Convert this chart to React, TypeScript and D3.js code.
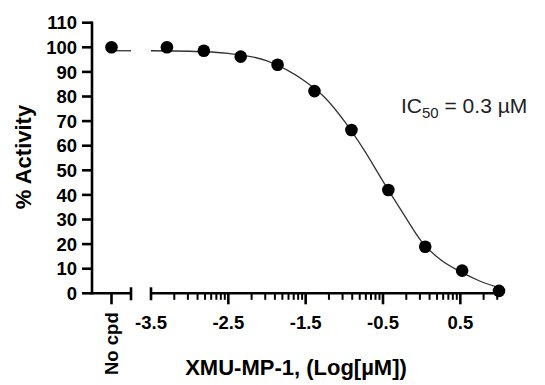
import { useEffect, useRef } from "react";
import * as d3 from "d3";

// dose (log µM) of each measured point, 3-fold dilutions
const doseLog = [-3.294, -2.817, -2.34, -1.863, -1.386, -0.908, -0.431, 0.046, 0.523, 1.0];
const activity = [100, 98.6, 96.2, 92.9, 82.2, 66.4, 42.0, 18.9, 9.2, 1.0];

// no-compound control
const controlLabel = "No cpd";
const controlValue = 100;

// fitted curve
const fitLog = [-3.5, -3.0, -2.5, -2.0, -1.5, -1.25, -1.0, -0.75, -0.5, -0.25, 0.0, 0.25, 0.5, 0.75, 1.0];
const fitValue = [98.6, 98.4, 97.5, 94.5, 86, 79.5, 70, 58.5, 45.5, 33, 21, 13.5, 8.8, 5, 2.3];
const fitTop = 98.6;

const yTicks = [0, 10, 20, 30, 40, 50, 60, 70, 80, 90, 100, 110];
const xMajor = [-3.5, -2.5, -1.5, -0.5, 0.5];
const xLabels = ["-3.5", "-2.5", "-1.5", "-0.5", "0.5"];
const minorSteps = [2, 3, 4, 5, 6, 7, 8, 9];

const W = 545;
const H = 385;
const FONT = "'Liberation Sans', Arial, sans-serif";

export default function App() {
  const svgRef = useRef<SVGSVGElement>(null);

  useEffect(() => {
    const el = svgRef.current;
    if (!el) return;
    d3.select(el).selectAll("*").remove();
    const svg = d3.select(el);

    const y = d3.scaleLinear().domain([0, 110]).range([293.3, 22.7]);
    const x = d3.scaleLinear().domain([-3.5, 1.0]).range([151, 499]);
    const xc = d3.scaleBand().domain([controlLabel]).range([92, 131]);
    const cx = (xc(controlLabel) || 0) + xc.bandwidth() / 2;
    const y0 = y(0);
    const axisW = 2.6;

    // Y axis
    svg
      .append("line")
      .attr("x1", 92)
      .attr("x2", 92)
      .attr("y1", y(110) - 1.3)
      .attr("y2", y0 + 1.3)
      .attr("stroke", "#000")
      .attr("stroke-width", axisW);
    svg
      .selectAll(".ytick")
      .data(yTicks)
      .enter()
      .append("line")
      .attr("x1", 82)
      .attr("x2", 92)
      .attr("y1", (d) => y(d))
      .attr("y2", (d) => y(d))
      .attr("stroke", "#000")
      .attr("stroke-width", axisW);
    svg
      .selectAll(".ylab")
      .data(yTicks)
      .enter()
      .append("text")
      .attr("x", 77)
      .attr("y", (d) => y(d))
      .attr("dy", "0.36em")
      .attr("text-anchor", "end")
      .style("font-family", FONT)
      .style("font-weight", "bold")
      .style("font-size", "18.5px")
      .text((d) => d);

    // X axis, control segment
    svg
      .append("line")
      .attr("x1", 92)
      .attr("x2", 131)
      .attr("y1", y0)
      .attr("y2", y0)
      .attr("stroke", "#000")
      .attr("stroke-width", axisW);
    svg
      .append("line")
      .attr("x1", cx)
      .attr("x2", cx)
      .attr("y1", y0)
      .attr("y2", y0 + 11)
      .attr("stroke", "#000")
      .attr("stroke-width", axisW);

    // X axis, dose segment
    svg
      .append("line")
      .attr("x1", x(-3.5))
      .attr("x2", x(1.0))
      .attr("y1", y0)
      .attr("y2", y0)
      .attr("stroke", "#000")
      .attr("stroke-width", axisW);

    // break caps
    [131, x(-3.5)].forEach((px) => {
      svg
        .append("line")
        .attr("x1", px)
        .attr("x2", px)
        .attr("y1", y0 - 6)
        .attr("y2", y0 + 7)
        .attr("stroke", "#000")
        .attr("stroke-width", axisW);
    });

    svg
      .selectAll(".xmaj")
      .data(xMajor.slice(1))
      .enter()
      .append("line")
      .attr("x1", (d) => x(d))
      .attr("x2", (d) => x(d))
      .attr("y1", y0)
      .attr("y2", y0 + 11)
      .attr("stroke", "#000")
      .attr("stroke-width", axisW);

    const minors: number[] = [];
    xMajor.forEach((m) => {
      minorSteps.forEach((k) => {
        const v = m + Math.log10(k);
        if (v <= 1.0001) minors.push(v);
      });
    });
    svg
      .selectAll(".xmin")
      .data(minors)
      .enter()
      .append("line")
      .attr("x1", (d) => x(d))
      .attr("x2", (d) => x(d))
      .attr("y1", y0)
      .attr("y2", y0 + 6.5)
      .attr("stroke", "#000")
      .attr("stroke-width", 2);

    svg
      .selectAll(".xlab")
      .data(xMajor)
      .enter()
      .append("text")
      .attr("x", (d) => x(d))
      .attr("y", 328.5)
      .attr("text-anchor", "middle")
      .style("font-family", FONT)
      .style("font-weight", "bold")
      .style("font-size", "18.5px")
      .text((d, i) => xLabels[i]);

    svg
      .append("text")
      .attr("transform", `translate(${cx + 6.5},375) rotate(-90)`)
      .style("font-family", FONT)
      .style("font-weight", "bold")
      .style("font-size", "18.5px")
      .text(controlLabel);

    // Fitted curve
    const line = d3
      .line<number>()
      .x((d) => x(d))
      .y((d, i) => y(fitValue[i]))
      .curve(d3.curveMonotoneX);
    svg
      .append("path")
      .datum(fitLog)
      .attr("fill", "none")
      .attr("stroke", "#333")
      .attr("stroke-width", 1.3)
      .attr("d", line);
    svg
      .append("line")
      .attr("x1", cx)
      .attr("x2", 131)
      .attr("y1", y(fitTop))
      .attr("y2", y(fitTop))
      .attr("stroke", "#333")
      .attr("stroke-width", 1.3);

    // Points
    svg
      .selectAll(".pt")
      .data(doseLog)
      .enter()
      .append("circle")
      .attr("cx", (d) => x(d))
      .attr("cy", (d, i) => y(activity[i]))
      .attr("r", 6.3)
      .attr("fill", "#000");
    svg
      .append("circle")
      .attr("cx", cx)
      .attr("cy", y(controlValue))
      .attr("r", 6.3)
      .attr("fill", "#000");

    // Titles
    svg
      .append("text")
      .attr("transform", "translate(31,157) rotate(-90)")
      .attr("text-anchor", "middle")
      .style("font-family", FONT)
      .style("font-weight", "bold")
      .style("font-size", "22px")
      .text("% Activity");
    svg
      .append("text")
      .attr("x", 296)
      .attr("y", 375)
      .attr("text-anchor", "middle")
      .style("font-family", FONT)
      .style("font-weight", "bold")
      .style("font-size", "22px")
      .text("XMU-MP-1, (Log[µM])");

    // IC50 annotation
    const ic = svg
      .append("text")
      .attr("x", 401)
      .attr("y", 113)
      .style("font-family", FONT)
      .style("font-size", "21px")
      .attr("fill", "#222");
    ic.append("tspan").text("IC");
    ic.append("tspan").attr("dy", 5).style("font-size", "15px").text("50");
    ic.append("tspan").attr("dy", -5).text(" = 0.3 µM");
  }, []);

  return (
    <svg
      ref={svgRef}
      width={W}
      height={H}
      style={{ position: "absolute", left: 0, top: 0, background: "#fff" }}
    />
  );
}
